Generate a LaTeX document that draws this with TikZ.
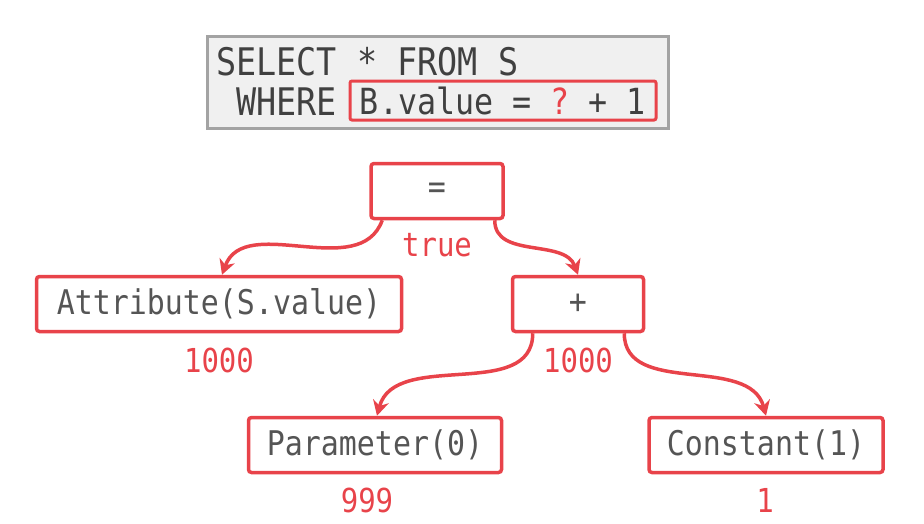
\documentclass[tikz,border=0pt]{standalone}
\usepackage{fontspec}
\setmonofont{DejaVu Sans Mono}[FakeStretch=0.88]
\usetikzlibrary{arrows.meta}

\definecolor{redc}{HTML}{E8434A}
\definecolor{textc}{HTML}{555555}
\definecolor{sqlfill}{HTML}{F0F0F0}
\definecolor{sqlline}{HTML}{A3A3A3}

\begin{document}
\begin{tikzpicture}[
    x=1pt, y=-1pt,
    % Style for the query text
    sql/.style={anchor=base west, inner sep=0pt, text=black!75, font=\ttfamily\fontsize{38}{40}\selectfont},
    % Style for the expression tree nodes (red boxes)
    op/.style={draw=redc, line width=3.5pt, rounded corners=3pt, fill=white, text=textc,
        font=\ttfamily\fontsize{34}{36}\selectfont, minimum height=55pt, inner xsep=0pt},
    % Style for the evaluated values
    val/.style={text=redc, inner sep=0pt, font=\ttfamily\fontsize{33}{35}\selectfont},
    % Style for the connectors
    link/.style={draw=redc, line width=3.5pt, -{Stealth[length=15pt, width=16pt]}}
]
\useasboundingbox (0,0) rectangle (924,523);

% ==========================
% Query
% ==========================
\draw[fill=sqlfill, draw=sqlline, line width=3pt] (207,36) rectangle (668,128);
\node[sql] (select) at (216,75) {SELECT * FROM S};
\node[sql] (where) at (236,115) {WHERE};
\node[draw=redc, line width=3pt, rounded corners=2pt, minimum width=306pt, minimum height=39pt,
    inner sep=0pt, text=black!75, font=\ttfamily\fontsize{36}{38}\selectfont]
    (pred) at (503,100.5) {B.value = {\color{redc}?} + 1};

% ==========================
% Expression tree
% ==========================
\node[op, minimum width=132pt] (eq) at (437,191) {=};
\node[op, minimum width=365pt] (attr) at (219,304) {Attribute(S.value)};
\node[op, minimum width=131pt] (plus) at (578,304) {+};
\node[op, minimum width=253pt] (param) at (375,445) {Parameter(0)};
\node[op, minimum width=234pt] (const) at (766,445) {Constant(1)};

% Values produced by each node
\node[val] (veq) at (437,245) {true};
\node[val] (vattr) at (219,360) {1000};
\node[val] (vplus) at (578,360) {1000};
\node[val] (vparam) at (367,500) {999};
\node[val] (vconst) at (765,500) {1};

% Connectors from parent to child
\draw[link] ([xshift=13pt]eq.south west) to[out=-110, in=70] ([xshift=3pt]attr.north);
\draw[link] ([xshift=-10pt]eq.south east) to[out=-90, in=110] (plus.north);
\draw[link] ([xshift=22pt]plus.south west) to[out=-90, in=75] ([xshift=2pt]param.north);
\draw[link] ([xshift=-21pt]plus.south east) to[out=-90, in=105] (const.north);

\end{tikzpicture}
\end{document}
